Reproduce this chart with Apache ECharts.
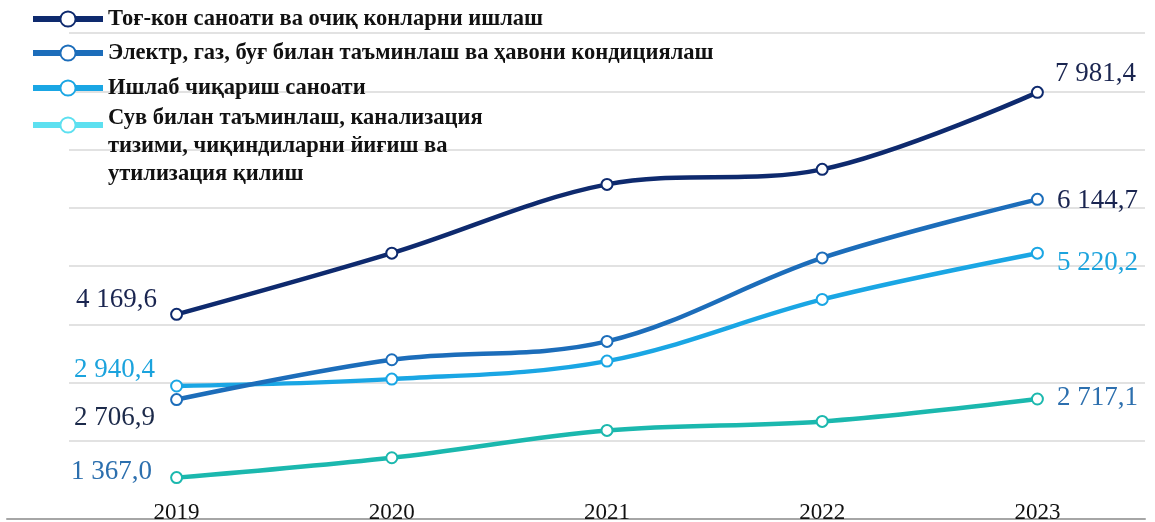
<!DOCTYPE html>
<html>
<head>
<meta charset="utf-8">
<script src="https://cdn.jsdelivr.net/npm/echarts@6/dist/echarts.min.js"></script>
<style>html,body{margin:0;padding:0;background:#fff}#c{width:1155px;height:522px}</style>
</head>
<body>
<div id="c"></div>
<script>
const categories = ['2019', '2020', '2021', '2022', '2023'];
const seriesNames = [
  'Тоғ-кон саноати ва очиқ конларни ишлаш',
  'Электр, газ, буғ билан таъминлаш ва ҳавони кондициялаш',
  'Ишлаб чиқариш саноати',
  'Сув билан таъминлаш, канализация тизими, чиқиндиларни йиғиш ва утилизация қилиш'
];
const legendLines4 = ['Сув билан таъминлаш, канализация', 'тизими, чиқиндиларни йиғиш ва', 'утилизация қилиш'];
const mining = [4169.6, 5221, 6401, 6659, 7981.4];
const energy = [2706.9, 3391, 3705, 5139, 6144.7];
const manufacturing = [2940.4, 3058, 3367, 4427, 5220.2];
const water = [1367.0, 1708, 2177, 2332, 2717.1];
const yTicks = { min: 1000, max: 9000, interval: 1000 };

const values = [mining, energy, manufacturing, water];
const lineColors = ['#0E2A6E', '#1C6DBA', '#1AA6E4', '#1BB8AE'];
const legendColors = ['#0E2A6E', '#1C6DBA', '#1AA6E4', '#5DE0F0'];
// label styling for first / last points: [distance, offsetY, color]
const firstLabel = [[13, -14, '#1A2550'], [15, 18, '#1C2A4A'], [15, -16, '#1BA3DD'], [18, -6, '#2C6FAE']];
const lastLabel = [[11, -18, '#1A2550'], [13, 2, '#1A2550'], [13, 10, '#1BA3DD'], [13, -1, '#2C6FAE']];

function fmt(v) {
  const s = v.toFixed(1).split('.');
  return s[0].replace(/\B(?=(\d{3})+(?!\d))/g, ' ') + ',' + s[1];
}

const labelFont = { fontFamily: 'Liberation Serif', fontSize: 27 };

const series = values.map((arr, si) => ({
  name: seriesNames[si],
  type: 'line',
  smooth: 0.35,
  symbol: 'emptyCircle',
  symbolSize: 11,
  xAxisIndex: 0, yAxisIndex: 0,
  lineStyle: { color: lineColors[si], width: 4.5 },
  itemStyle: { color: lineColors[si], borderColor: lineColors[si], borderWidth: 2 },
  z: 10 - si,
  data: arr.map((v, i) => {
    const d = { value: v };
    if (i === 0) {
      const c = firstLabel[si];
      d.label = { show: true, position: 'left', distance: c[0], offset: [0, c[1]], color: c[2], formatter: p => fmt(p.value), ...labelFont };
    } else if (i === arr.length - 1) {
      const c = lastLabel[si];
      d.label = { show: true, position: 'right', distance: c[0], offset: [0, c[1]], color: c[2], formatter: p => fmt(p.value), ...labelFont };
    }
    return d;
  })
}));

const legendFont = { fontFamily: 'Liberation Serif', fontWeight: 'bold', fontSize: 22.5, color: '#111' };
const legendTops = [5, 39, 74, 62];
const legends = seriesNames.map((n, i) => ({
  left: 30,
  top: legendTops[i],
  orient: 'vertical',
  padding: 0,
  itemWidth: 70,
  itemHeight: 19,
  lineStyle: { width: 6 },
  textStyle: Object.assign({ lineHeight: 28 }, legendFont, i === 3 ? {
    rich: {
      sp: { lineHeight: 42, fontSize: 10 },
      t: Object.assign({ lineHeight: 28 }, legendFont)
    }
  } : {}),
  formatter: i === 3 ? (() => '{sp| }\n' + legendLines4.map(l => '{t|' + l + '}').join('\n')) : undefined,
  data: [{ name: n, itemStyle: { color: legendColors[i], borderColor: legendColors[i] }, lineStyle: { color: legendColors[i], width: 6 } }],
  selectedMode: false
}));

const chart = echarts.init(document.getElementById('c'), null, { renderer: 'canvas' });
chart.setOption({
  animation: false,
  backgroundColor: '#fff',
  legend: legends,
  grid: [
    { left: 69, right: 10, top: 33, bottom: 23, outerBoundsMode: 'none', containLabel: false },
    { left: 7, right: 10, top: 518, height: 1, outerBoundsMode: 'none', containLabel: false }
  ],
  xAxis: [
    {
      type: 'category', gridIndex: 0, data: categories, boundaryGap: true,
      axisLine: { show: false }, axisTick: { show: false },
      axisLabel: { margin: 2, color: '#111', fontFamily: 'Liberation Serif', fontSize: 23 }
    },
    {
      type: 'value', gridIndex: 1, min: 0, max: 1,
      axisLine: { show: true, lineStyle: { color: '#A6A6A6', width: 2 } },
      axisTick: { show: false }, axisLabel: { show: false }, splitLine: { show: false }
    }
  ],
  yAxis: [
    {
      type: 'value', gridIndex: 0, min: yTicks.min, max: yTicks.max, interval: yTicks.interval,
      axisLine: { show: false }, axisTick: { show: false }, axisLabel: { show: false },
      splitLine: { show: true, showMinLine: false, lineStyle: { color: '#D9D9D9', width: 1.5 } }
    },
    { type: 'value', gridIndex: 1, show: false }
  ],
  series: series
});
</script>
</body>
</html>
